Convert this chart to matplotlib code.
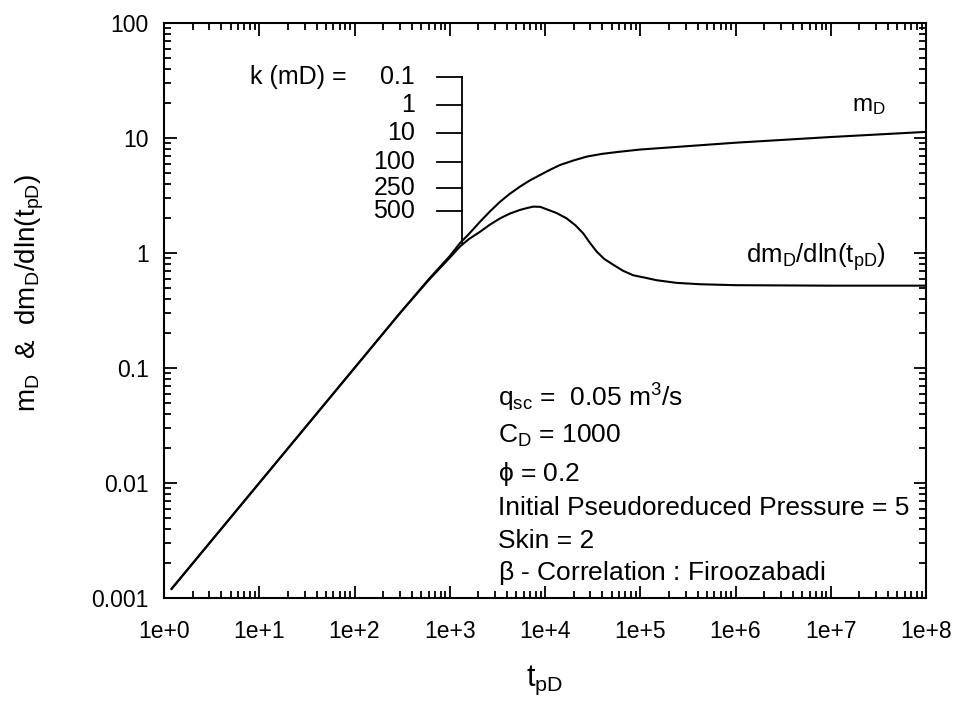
import numpy as np
import matplotlib
matplotlib.use("Agg")
import matplotlib.pyplot as plt
from matplotlib.ticker import LogLocator, FixedLocator, FixedFormatter, NullFormatter

plt.rcParams['font.family'] = ['Liberation Sans', 'DejaVu Sans']
plt.rcParams['mathtext.fontset'] = 'custom'
plt.rcParams['mathtext.rm'] = 'Liberation Sans'
plt.rcParams['mathtext.it'] = 'Liberation Sans'
plt.rcParams['mathtext.default'] = 'regular'

# dimensionless pseudopressure m_D vs t_pD
t_md = [1.2, 10, 100, 300, 600, 1000, 1282, 1585, 2080, 2630, 3373, 4266,
        5470, 6918, 8851, 11220, 14350, 19950, 27420, 39810, 61240,
        1e5, 3.16e5, 1e6, 1e7, 1e8]
m_d = [0.0012, 0.010, 0.10, 0.30, 0.59, 0.94, 1.22, 1.46, 1.87, 2.29, 2.79, 3.27,
       3.78, 4.27, 4.76, 5.28, 5.82, 6.38, 6.89, 7.28, 7.60,
       7.94, 8.5, 9.1, 10.2, 11.3]

# derivative dm_D/dln(t_pD)
t_dmd = [1.2, 10, 100, 300, 600, 1000, 1282, 1585, 2080, 2630, 3373, 4266,
         5470, 6607, 7534, 8913, 10400, 13180, 16870, 20890, 25230, 29510,
         34830, 41690, 52120, 66070, 84530, 112200, 148300, 239900, 423600,
         1e6, 1e7, 1e8]
dm_d = [0.0012, 0.010, 0.10, 0.30, 0.58, 0.91, 1.14, 1.32, 1.53, 1.76, 2.0, 2.2,
        2.37, 2.47, 2.53, 2.52, 2.4, 2.23, 2.0, 1.74, 1.48, 1.23,
        1.03, 0.89, 0.79, 0.70, 0.64, 0.61, 0.58, 0.55, 0.535,
        0.525, 0.52, 0.52]

x_ticks = [1e0, 1e1, 1e2, 1e3, 1e4, 1e5, 1e6, 1e7, 1e8]
x_labels = ['1e+0', '1e+1', '1e+2', '1e+3', '1e+4', '1e+5', '1e+6', '1e+7', '1e+8']
y_ticks = [0.001, 0.01, 0.1, 1, 10, 100]
y_labels = ['0.001', '0.01', '0.1', '1', '10', '100']

# permeability scale drawn inside the plot
k_labels = ['0.1', '1', '10', '100', '250', '500']
k_y = [33.9, 19.4, 11.0, 6.18, 3.67, 2.30]

params = [r'$q_{sc}$ =  0.05 m$^3$/s',
          r'$C_D$ = 1000',
          r'$\phi$ = 0.2',
          'Initial Pseudoreduced Pressure = 5',
          'Skin = 2',
          r'$\beta$ - Correlation : Firoozabadi']

fig = plt.figure(figsize=(9.6, 7.13), dpi=100)
ax = fig.add_axes([164 / 960, 1 - 598 / 713, 762 / 960, 575 / 713])

ax.plot(t_md, m_d, color='black', lw=1.5)
ax.plot(t_dmd, dm_d, color='black', lw=1.5)

ax.set_xscale('log')
ax.set_yscale('log')
ax.set_xlim(1, 1e8)
ax.set_ylim(0.001, 100)

ax.xaxis.set_major_locator(FixedLocator(x_ticks))
ax.xaxis.set_major_formatter(FixedFormatter(x_labels))
ax.yaxis.set_major_locator(FixedLocator(y_ticks))
ax.yaxis.set_major_formatter(FixedFormatter(y_labels))
ax.xaxis.set_minor_locator(LogLocator(base=10, subs=np.arange(2, 10), numticks=20))
ax.yaxis.set_minor_locator(LogLocator(base=10, subs=np.arange(2, 10), numticks=20))
ax.xaxis.set_minor_formatter(NullFormatter())
ax.yaxis.set_minor_formatter(NullFormatter())

ax.tick_params(which='both', direction='in', top=True, right=True, width=1.3,
               labelsize=16.5)
ax.tick_params(which='major', length=9)
ax.tick_params(which='minor', length=5)
ax.tick_params(axis='x', which='major', pad=16)
ax.tick_params(axis='y', which='major', pad=11)
for s in ax.spines.values():
    s.set_linewidth(1.5)

ax.set_xlabel(r'$t_{pD}$', fontsize=22)
ax.xaxis.set_label_coords(0.5, -0.115)
ax.set_ylabel(r'$m_D$  &  $dm_D/dln(t_{pD})$', fontsize=20)
ax.yaxis.set_label_coords(-0.155, 0.53)

# k scale: vertical bar with ticks and labels
ax.plot([1330, 1330], [k_y[0], 1.22], color='black', lw=1.3)
for lab, y in zip(k_labels, k_y):
    ax.plot([743, 1330], [y, y], color='black', lw=1.3)
    ax.text(432, y, lab, ha='right', va='center', fontsize=18)
ax.text(8.0, k_y[0], 'k (mD) =', ha='left', va='center', fontsize=18)

# curve labels
ax.text(0.903, 0.855, r'$m_D$', transform=ax.transAxes, fontsize=17.5,
        ha='left', va='center')
ax.text(0.764, 0.592, r'$dm_D/dln(t_{pD})$', transform=ax.transAxes,
        fontsize=18.5, ha='left', va='center')

# run parameters
param_y = [398, 436, 474, 508, 541, 573]
for txt, py in zip(params, param_y):
    ax.text((498 - 164) / 762, (598 - py) / 575, txt, transform=ax.transAxes,
            fontsize=19, ha='left', va='center')

fig.savefig('out.png', dpi=100)
